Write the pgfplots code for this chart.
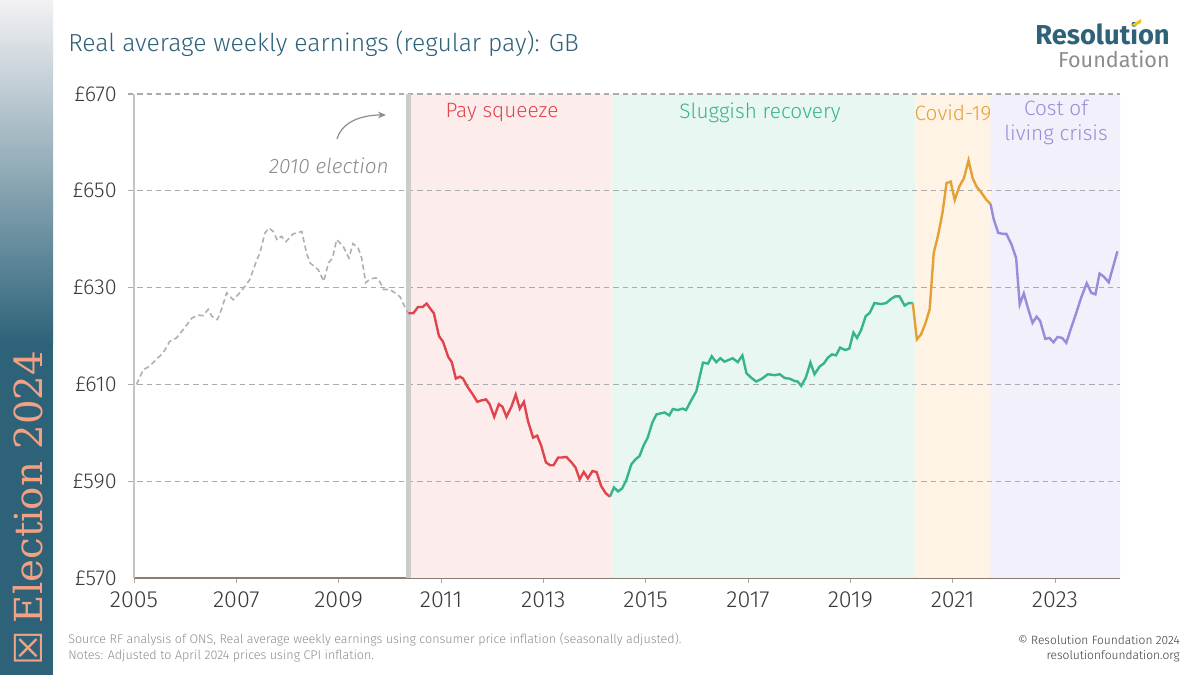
\documentclass[border=0pt]{standalone}
\usepackage{pgfplots}
\pgfplotsset{compat=1.18}
\usetikzlibrary{arrows.meta}
\usepackage{fontspec}
\setmainfont{Fira Sans Light}
\newfontfamily\firareg{Fira Sans}
\newfontfamily\slab{DejaVu Serif}
\newfontfamily\sym{DejaVu Sans}
\definecolor{rfteal}{HTML}{2D6279}
\definecolor{sidetop}{HTML}{F2F2F4}
\definecolor{elecorange}{HTML}{F3A183}
\definecolor{txtgray}{HTML}{8C8C8C}
\definecolor{txtdark}{HTML}{3A3A3A}
\definecolor{gridgray}{HTML}{ABABAB}
\definecolor{axisbrown}{HTML}{8A7E70}
\definecolor{axisgray}{HTML}{C4C4C4}
\definecolor{elecline}{HTML}{CCCCCC}
\definecolor{redl}{HTML}{E0454D}
\definecolor{greenl}{HTML}{36B588}
\definecolor{orangel}{HTML}{E3A135}
\definecolor{purplel}{HTML}{9B8ADA}
\definecolor{redbg}{HTML}{FDECEC}
\definecolor{greenbg}{HTML}{E8F7F1}
\definecolor{orangebg}{HTML}{FEF3E5}
\definecolor{purplebg}{HTML}{F2F0FB}
\definecolor{dashgray}{HTML}{B0B0B0}
\definecolor{logoyellow}{HTML}{F2C418}

\pgfplotstableread{
xx yy
2005.05 610.0
2005.18 613.0
2005.31 613.8
2005.44 615.2
2005.57 616.5
2005.70 618.9
2005.83 619.6
2005.96 621.3
2006.13 623.7
2006.26 624.3
2006.35 624.2
2006.45 625.5
2006.52 624.1
2006.63 623.4
2006.71 625.5
2006.81 628.9
2006.94 627.5
2007.04 628.6
2007.17 630.3
2007.26 631.6
2007.38 635.1
2007.46 637.2
2007.56 641.3
2007.64 642.3
2007.72 641.6
2007.80 639.8
2007.88 640.6
2007.97 639.5
2008.11 641.1
2008.28 641.6
2008.37 637.2
2008.44 635.1
2008.60 633.7
2008.71 631.3
2008.80 635.1
2008.88 636.1
2008.96 639.9
2009.09 638.5
2009.20 636.1
2009.28 639.1
2009.38 638.2
2009.45 636.1
2009.53 631.0
2009.61 631.8
2009.73 632.0
2009.80 631.3
2009.88 629.6
2010.00 629.6
2010.10 628.9
2010.20 628.1
2010.27 626.5
2010.36 624.7
}\graydata

\pgfplotstableread{
xx yy
2010.36 624.7
2010.46 624.7
2010.55 626.0
2010.64 626.0
2010.72 626.7
2010.78 625.8
2010.86 624.7
2010.96 620.0
2011.04 618.8
2011.14 615.7
2011.21 614.6
2011.29 611.2
2011.37 611.6
2011.43 611.2
2011.53 609.3
2011.61 608.1
2011.71 606.4
2011.79 606.7
2011.88 606.9
2011.95 605.9
2012.04 603.3
2012.13 605.9
2012.20 605.4
2012.28 603.3
2012.38 605.5
2012.46 607.9
2012.54 605.0
2012.62 606.4
2012.70 602.4
2012.80 599.0
2012.88 599.4
2012.96 597.3
2013.05 593.9
2013.13 593.3
2013.20 593.3
2013.29 594.9
2013.37 594.9
2013.45 595.0
2013.55 593.9
2013.63 592.8
2013.71 590.4
2013.79 591.9
2013.87 590.6
2013.96 592.1
2014.04 591.9
2014.13 589.0
2014.22 587.5
2014.30 586.8
}\reddata

\pgfplotstableread{
xx yy
2014.30 586.8
2014.38 588.7
2014.46 587.9
2014.54 588.5
2014.62 590.2
2014.72 593.5
2014.80 594.5
2014.88 595.2
2014.96 597.4
2015.04 599.0
2015.13 602.1
2015.21 603.8
2015.29 604.0
2015.37 604.2
2015.46 603.6
2015.53 604.9
2015.63 604.7
2015.72 605.0
2015.79 604.7
2015.89 606.7
2015.99 608.6
2016.12 614.5
2016.22 614.3
2016.29 615.8
2016.38 614.6
2016.46 615.4
2016.54 614.7
2016.70 615.4
2016.80 614.6
2016.89 616.0
2016.97 612.3
2017.06 611.4
2017.16 610.6
2017.26 611.1
2017.39 612.1
2017.52 611.9
2017.62 612.1
2017.72 611.3
2017.81 611.2
2017.91 610.7
2017.97 610.6
2018.04 609.7
2018.13 611.4
2018.22 614.5
2018.30 612.1
2018.40 613.7
2018.48 614.3
2018.56 615.5
2018.64 616.2
2018.72 616.0
2018.80 617.6
2018.90 617.1
2018.98 617.4
2019.06 620.7
2019.13 619.6
2019.21 621.2
2019.30 624.1
2019.38 624.8
2019.47 626.8
2019.60 626.6
2019.70 626.8
2019.80 627.7
2019.88 628.2
2019.96 628.2
2020.06 626.3
2020.14 626.8
2020.22 626.8
}\greendata

\pgfplotstableread{
xx yy
2020.22 626.8
2020.30 619.3
2020.38 620.3
2020.47 622.7
2020.55 625.5
2020.63 637.2
2020.71 640.6
2020.80 645.4
2020.88 651.6
2020.96 651.9
2021.04 648.1
2021.13 650.9
2021.22 652.6
2021.31 656.3
2021.39 652.6
2021.47 650.8
2021.57 649.5
2021.66 648.1
2021.74 647.3
}\orangedata

\pgfplotstableread{
xx yy
2021.74 647.3
2021.80 644.2
2021.89 641.3
2021.98 641.1
2022.05 641.1
2022.15 638.9
2022.24 636.1
2022.31 626.5
2022.39 628.8
2022.47 625.8
2022.56 622.7
2022.64 624.0
2022.71 623.1
2022.81 619.4
2022.89 619.6
2022.97 618.7
2023.05 619.8
2023.14 619.6
2023.22 618.6
2023.31 621.5
2023.41 624.6
2023.51 627.9
2023.62 630.9
2023.71 628.9
2023.79 628.6
2023.87 632.9
2023.95 632.3
2024.05 631.1
2024.22 637.5
}\purpledata

\begin{document}
\begin{tikzpicture}
\begin{scope}[x=0.75pt,y=0.75pt]
\path[use as bounding box, fill=white] (0,0) rectangle (1200,675);
% sidebar
\shade[top color=sidetop, bottom color=rfteal] (0,330) rectangle (53,675);
\fill[rfteal] (0,0) rectangle (53,331);
\node[rotate=90, anchor=west, text=elecorange, inner sep=0pt] at (28,9)
  {\fontsize{29}{29}\selectfont\sym ☒\hspace{6pt}\slab Election 2024};
% title and logo
\node[anchor=west, text=rfteal, inner sep=0pt] at (68,631)
  {\fontsize{18.5}{22}\selectfont Real average weekly earnings (regular pay): GB};
\node[anchor=east, text=rfteal, inner sep=0pt] at (1170,641)
  {\fontsize{20.5}{22}\selectfont\firareg\bfseries Resolution};
\node[anchor=east, text=txtgray, inner sep=0pt] at (1170,616)
  {\fontsize{16.2}{18}\selectfont\firareg Foundation};
\fill[logoyellow] (1131,650) -- (1141,656) -- (1141,652) -- (1135,649) -- cycle;
\end{scope}

\begin{axis}[
  at={(100.5pt,435.75pt)}, anchor=north west,
  scale only axis, width=739.5pt, height=363pt,
  xmin=2005, xmax=2024.27, ymin=570, ymax=670,
  clip=false,
  xtick={2005,2007,2009,2011,2013,2015,2017,2019,2021,2023},
  xticklabels={2005,2007,2009,2011,2013,2015,2017,2019,2021,2023},
  ytick={570,590,610,630,650,670},
  yticklabels={£570,£590,£610,£630,£650,£670},
  axis x line*=bottom, axis y line*=left,
  x axis line style={-, draw=axisbrown, line width=1.3pt},
  y axis line style={-, draw=axisgray, line width=1.3pt},
  tick align=outside,
  major tick length=3.5pt,
  xtick style={draw=axisbrown!70, line width=0.6pt},
  ytick style={draw=none},
  tick label style={text=txtdark},
  yticklabel style={font=\fontsize{16.2}{18}\selectfont, xshift=-6pt},
  xticklabel style={font=\fontsize{17.5}{20}\selectfont, yshift=-3pt},
]
\addplot[draw=none, fill=redbg] coordinates {(2010.36,570) (2010.36,670) (2014.33,670) (2014.33,570)} \closedcycle;
\addplot[draw=none, fill=greenbg] coordinates {(2014.33,570) (2014.33,670) (2020.27,670) (2020.27,570)} \closedcycle;
\addplot[draw=none, fill=orangebg] coordinates {(2020.27,570) (2020.27,670) (2021.74,670) (2021.74,570)} \closedcycle;
\addplot[draw=none, fill=purplebg] coordinates {(2021.74,570) (2021.74,670) (2024.27,670) (2024.27,570)} \closedcycle;
\foreach \g in {590,610,630,650,670} {
  \edef\temp{\noexpand\draw[gridgray, line width=0.8pt, dash pattern=on 4pt off 3pt] (axis cs:2004.88,\g) -- (axis cs:2024.27,\g);}
  \temp
}
\draw[elecline, line width=3.6pt] (axis cs:2010.36,570) -- (axis cs:2010.36,670);
\addplot[dashgray, line width=1.2pt, dash pattern=on 4pt off 2.5pt] table[x=xx,y=yy] {\graydata};
\addplot[redl, line width=1.8pt] table[x=xx,y=yy] {\reddata};
\addplot[greenl, line width=1.8pt] table[x=xx,y=yy] {\greendata};
\addplot[orangel, line width=1.8pt] table[x=xx,y=yy] {\orangedata};
\addplot[purplel, line width=1.8pt] table[x=xx,y=yy] {\purpledata};
\end{axis}

\begin{scope}[x=0.75pt,y=0.75pt]
\begin{scope}[every node/.style={inner sep=0pt}, font=\fontsize{15.6}{18.75}\selectfont]
\node[text=redl] at (502,562) {Pay squeeze};
\node[text=greenl] at (760,562) {Sluggish recovery};
\node[text=orangel] at (953,562) {Covid-19};
\node[text=purplel, align=center] at (1056,553) {Cost of\\living crisis};
\node[text=txtgray] at (329,509) {\itshape 2010 election};
\end{scope}
\draw[txtgray, line width=0.9pt, -{Stealth[length=6pt,width=5pt]}] (337,536) .. controls (341,551) and (358,560) .. (386,560);
% footer
\node[anchor=west, text=txtgray, inner sep=0pt] at (68,35)
  {\fontsize{9.4}{11}\selectfont Source RF analysis of ONS, Real average weekly earnings using consumer price inflation (seasonally adjusted).};
\node[anchor=west, text=txtgray, inner sep=0pt] at (68,19)
  {\fontsize{9.4}{11}\selectfont Notes: Adjusted to April 2024 prices using CPI inflation.};
\node[anchor=east, text=txtdark, inner sep=0pt] at (1180,35)
  {\fontsize{9}{11}\selectfont © Resolution Foundation 2024};
\node[anchor=east, text=txtdark, inner sep=0pt] at (1180,19)
  {\fontsize{9}{11}\selectfont resolutionfoundation.org};
\end{scope}
\end{tikzpicture}
\end{document}
